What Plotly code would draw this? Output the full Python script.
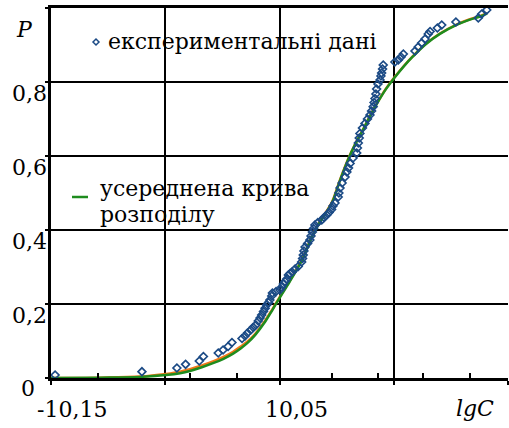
import plotly.graph_objects as go

# experimental points (lgC, P)
exp_lgC = [-10.1482, -10.1102, -10.0949, -10.0911, -10.0851, -10.0833, -10.0768, -10.0747,
           -10.0725, -10.0708, -10.0664, -10.0651, -10.0640, -10.0626, -10.0615, -10.0603,
           -10.0593, -10.0585, -10.0578, -10.0570, -10.0563, -10.0556, -10.0548, -10.0542,
           -10.0534, -10.0531, -10.0515, -10.0498, -10.0490, -10.0483, -10.0476, -10.0468,
           -10.0461, -10.0454, -10.0445, -10.0432, -10.0418, -10.0403, -10.0399, -10.0396,
           -10.0393, -10.0388, -10.0377, -10.0367, -10.0362, -10.0356, -10.0351, -10.0345,
           -10.0332, -10.0315, -10.0305, -10.0293, -10.0283, -10.0272, -10.0266, -10.0257,
           -10.0243, -10.0240, -10.0235, -10.0226, -10.0213, -10.0205, -10.0198, -10.0191,
           -10.0178, -10.0162, -10.0159, -10.0155, -10.0151, -10.0148, -10.0137, -10.0126,
           -10.0115, -10.0104, -10.0097, -10.0090, -10.0086, -10.0082, -10.0078, -10.0075,
           -10.0069, -10.0060, -10.0056, -10.0053, -10.0049, -10.0046, -9.9995, -9.9980,
           -9.9968, -9.9958, -9.9907, -9.9893, -9.9878, -9.9863, -9.9849, -9.9841,
           -9.9809, -9.9790, -9.9728, -9.9630, -9.9615, -9.9593]
exp_P = [0.0081, 0.0170, 0.0270, 0.0370, 0.0459, 0.0581, 0.0676, 0.0757,
         0.0851, 0.0959, 0.1068, 0.1135, 0.1216, 0.1297, 0.1370, 0.1432,
         0.1541, 0.1622, 0.1703, 0.1797, 0.1884, 0.1973, 0.2041, 0.2108,
         0.2216, 0.2297, 0.2338, 0.2378, 0.2459, 0.2541, 0.2608, 0.2676,
         0.2784, 0.2824, 0.2865, 0.2946, 0.3014, 0.3135, 0.3230, 0.3324,
         0.3432, 0.3541, 0.3635, 0.3730, 0.3838, 0.3946, 0.4041, 0.4135,
         0.4203, 0.4270, 0.4338, 0.4405, 0.4473, 0.4554, 0.4649, 0.4730,
         0.4892, 0.5000, 0.5135, 0.5270, 0.5432, 0.5568, 0.5676, 0.5797,
         0.5946, 0.6081, 0.6216, 0.6351, 0.6486, 0.6608, 0.6757, 0.6878,
         0.7000, 0.7108, 0.7216, 0.7332, 0.7446, 0.7554, 0.7676, 0.7811,
         0.7946, 0.8054, 0.8162, 0.8243, 0.8351, 0.8459, 0.8541, 0.8595,
         0.8676, 0.8757, 0.8838, 0.8946, 0.9054, 0.9162, 0.9297, 0.9365,
         0.9459, 0.9541, 0.9622, 0.9730, 0.9838, 0.9946]

# averaged distribution curve
curve_lgC = [-10.1500, -10.1286, -10.1110, -10.0997, -10.0935, -10.0892, -10.0840, -10.0791,
             -10.0745, -10.0703, -10.0670, -10.0640, -10.0607, -10.0563, -10.0530, -10.0498,
             -10.0454, -10.0402, -10.0360, -10.0332, -10.0300, -10.0270, -10.0235, -10.0200,
             -10.0170, -10.0135, -10.0100, -10.0073, -10.0035, -9.9995, -9.9955, -9.9916,
             -9.9860, -9.9798, -9.9723, -9.9670, -9.9623, -9.9592]
curve_P = [0.000, 0.001, 0.003, 0.008, 0.013, 0.019, 0.029, 0.040,
           0.052, 0.066, 0.080, 0.095, 0.116, 0.152, 0.185, 0.218,
           0.262, 0.318, 0.378, 0.412, 0.443, 0.474, 0.534, 0.590,
           0.630, 0.670, 0.712, 0.742, 0.780, 0.813, 0.843, 0.869,
           0.902, 0.930, 0.955, 0.968, 0.977, 0.985]
# second (orange) curve, almost hidden under the green one
curve2_P = [0.000, 0.001, 0.004, 0.011, 0.017, 0.024, 0.034, 0.045,
            0.057, 0.071, 0.085, 0.099, 0.119, 0.155, 0.187, 0.220,
            0.264, 0.320, 0.380, 0.414, 0.445, 0.476, 0.536, 0.591,
            0.631, 0.671, 0.713, 0.743, 0.781, 0.814, 0.844, 0.870,
            0.903, 0.931, 0.956, 0.969, 0.978, 0.986]

y_ticks = [0.2, 0.4, 0.6, 0.8]
y_tick_text = ["0,2", "0,4", "0,6", "0,8"]
x_major = [-10.15, -10.10, -10.05, -10.00, -9.95]
x_minor = [-10.1294, -10.0892, -10.0686, -10.0270, -10.0069, -9.9872, -9.9666]
x_label_vals = [-10.15, -10.05]
x_label_text = ["-10,15", "10,05"]

legend_exp = "експериментальні дані"
legend_curve_1 = "усереднена крива"
legend_curve_2 = "розподілу"

W, H = 509, 428
L, R, T, B = 51, 1, 8, 50
PW, PH = W - L - R, H - T - B
FONT = "DejaVu Serif"
FS = 22


def px(xp):
    return (xp - L) / PW


def py(yp):
    return (H - B - yp) / PH


def txt(**kw):
    d = dict(showarrow=False, font=dict(family=FONT, size=FS, color="black"))
    d.update(kw)
    return d


fig = go.Figure()
fig.add_trace(go.Scatter(x=curve_lgC, y=curve2_P, mode="lines",
                         line=dict(color="#f07818", width=2.5, shape="spline"),
                         showlegend=False))
fig.add_trace(go.Scatter(x=curve_lgC, y=curve_P, mode="lines",
                         line=dict(color="#1e8c1e", width=2.5, shape="spline"),
                         showlegend=False))
fig.add_trace(go.Scatter(x=exp_lgC, y=exp_P, mode="markers",
                         marker=dict(symbol="diamond-open", size=6, color="#1b4a85",
                                     line=dict(width=1.7, color="#1b4a85")),
                         showlegend=False))

ann = []
for v, t in zip(y_ticks, y_tick_text):
    ann.append(txt(x=px(49), xref="paper", xanchor="right", y=v, yref="y",
                   yanchor="middle", yshift=-11, text=t))
ann.append(txt(x=px(28), xref="paper", xanchor="center", y=py(388), yref="paper",
               yanchor="middle", text="0"))
for v, t, s in zip(x_label_vals, x_label_text, [21, 17]):
    ann.append(txt(x=v, xref="x", xanchor="center", xshift=s, y=py(409), yref="paper",
                   yanchor="middle", text=t))
ann.append(txt(x=px(475), xref="paper", xanchor="center", y=py(408), yref="paper",
               yanchor="middle", text="<i>lgC</i>"))
ann.append(txt(x=px(24), xref="paper", xanchor="center", y=py(30), yref="paper",
               yanchor="middle", text="<i>P</i>"))
ann.append(txt(x=px(106), xref="paper", xanchor="left", y=py(42), yref="paper",
               yanchor="middle", text=legend_exp))
ann.append(txt(x=px(98), xref="paper", xanchor="left", y=py(188), yref="paper",
               yanchor="middle", text=legend_curve_1))
ann.append(txt(x=px(98), xref="paper", xanchor="left", y=py(214), yref="paper",
               yanchor="middle", text=legend_curve_2))

shapes = [
    dict(type="path", xref="paper", yref="paper", xsizemode="pixel", ysizemode="pixel",
         xanchor=px(96), yanchor=py(42), path="M -3 0 L 0 3 L 3 0 L 0 -3 Z",
         line=dict(color="#1b4a85", width=1.5), fillcolor="rgba(0,0,0,0)"),
    dict(type="line", xref="paper", yref="paper", x0=px(72), x1=px(88),
         y0=py(197), y1=py(197), line=dict(color="#1e8c1e", width=2.5)),
]

fig.update_layout(
    width=W, height=H,
    margin=dict(l=L, r=R, t=T, b=B, pad=0),
    paper_bgcolor="white", plot_bgcolor="white",
    showlegend=False,
    font=dict(family=FONT),
    annotations=ann, shapes=shapes,
    xaxis=dict(range=[-10.15, -9.95], tickmode="array", tickvals=x_major,
               showticklabels=False, showgrid=True, gridcolor="black", gridwidth=1.5,
               ticks="outside", ticklen=4, tickcolor="black", tickwidth=1.5,
               showline=True, linecolor="black", linewidth=3, mirror=True,
               zeroline=False,
               minor=dict(tickmode="array", tickvals=x_minor, ticks="inside",
                          ticklen=5, tickwidth=1.5, tickcolor="black", showgrid=False)),
    yaxis=dict(range=[0, 1], tickmode="array", tickvals=[0] + y_ticks + [1],
               showticklabels=False, showgrid=True, gridcolor="black", gridwidth=1.5,
               ticks="outside", ticklen=3, tickcolor="black", tickwidth=1.5,
               showline=True, linecolor="black", linewidth=3, mirror=False,
               zeroline=False),
)

fig.write_html("out.html", config={"displayModeBar": False},
               post_script="document.body.style.margin='0';document.body.style.padding='0';")
